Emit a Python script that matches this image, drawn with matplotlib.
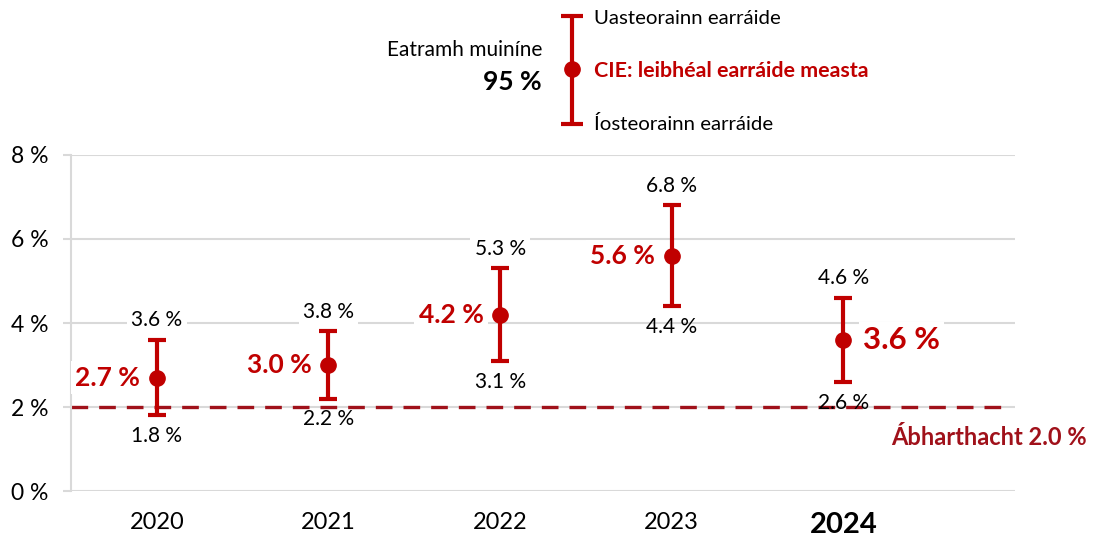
import numpy as np
import matplotlib.pyplot as plt

plt.rcParams['font.family'] = ['Lato', 'DejaVu Sans']

# data
years = ['2020', '2021', '2022', '2023', '2024']
estimate = [2.7, 3.0, 4.2, 5.6, 3.6]
upper = [3.6, 3.8, 5.3, 6.8, 4.6]
lower = [1.8, 2.2, 3.1, 4.4, 2.6]
materiality = 2.0
y_ticks = [0, 2, 4, 6, 8]

red = '#C00000'
dark_red = '#A0111A'
grid_grey = '#D9D9D9'

fig = plt.figure(figsize=(10.93, 5.40), dpi=100)
ax = fig.add_axes([0.065, 0.0907, 0.8636, 0.6223])

x = np.arange(len(years))
est = np.array(estimate)
up = np.array(upper)
lo = np.array(lower)

ax.set_xlim(-0.5, len(years))
ax.set_ylim(0, 8)
ax.set_yticks(y_ticks)
ax.set_yticklabels([f'{t} %' for t in y_ticks], fontsize=16.5)
ax.set_xticks(x)
ax.set_xticklabels(years, fontsize=17)
ax.get_xticklabels()[-1].set_fontweight('bold')
ax.get_xticklabels()[-1].set_fontsize(21)
ax.tick_params(axis='x', length=0, pad=15)
ax.tick_params(axis='y', length=6, color=grid_grey, width=1.5, pad=10)

for s in ['top', 'right', 'bottom']:
    ax.spines[s].set_visible(False)
ax.spines['left'].set_color(grid_grey)
ax.spines['left'].set_linewidth(1.5)
ax.grid(axis='y', color=grid_grey, linewidth=1.5)
ax.set_axisbelow(True)

# materiality line
ax.plot([-0.5, len(years) - 0.07], [materiality, materiality], color=dark_red,
        linestyle=(0, (5, 3.3)), linewidth=2.4, zorder=2)
ax.annotate(f'Ábharthacht {materiality:.1f} %', (len(years), materiality), xytext=(52, -22),
            textcoords='offset points', color=dark_red, fontsize=17, fontweight='bold',
            ha='right', va='center', annotation_clip=False)

# confidence intervals
ax.errorbar(x, est, yerr=[est - lo, up - est], fmt='o', color=red, ecolor=red,
            elinewidth=3, capsize=6.5, capthick=3, markersize=11, zorder=4)

box = dict(facecolor='white', edgecolor='none', pad=3)
for i in range(len(years)):
    ax.annotate(f'{up[i]:.1f} %', (x[i], up[i]), xytext=(0, 14), textcoords='offset points',
                ha='center', va='center', fontsize=15, bbox=box, zorder=3)
    ax.annotate(f'{lo[i]:.1f} %', (x[i], lo[i]), xytext=(0, -15), textcoords='offset points',
                ha='center', va='center', fontsize=15, zorder=3)
    if i == len(years) - 1:
        ax.annotate(f'{est[i]:.1f} %', (x[i], est[i]), xytext=(14, 0), textcoords='offset points',
                    ha='left', va='center', fontsize=22.5, fontweight='bold', color=red,
                    bbox=box, zorder=3)
    else:
        ax.annotate(f'{est[i]:.1f} %', (x[i], est[i]), xytext=(-12, 0), textcoords='offset points',
                    ha='right', va='center', fontsize=19, fontweight='bold', color=red,
                    bbox=box, zorder=3)

# legend key drawn above the plot
leg = fig.add_axes([0, 0.75, 1, 0.25])
leg.set_xlim(0, 1093)
leg.set_ylim(135, 0)
leg.axis('off')
leg.errorbar([572], [69], yerr=[[53], [55]], fmt='o', color=red, ecolor=red,
             elinewidth=3, capsize=8, capthick=3, markersize=11)
leg.text(594, 18, 'Uasteorainn earráide', fontsize=14.7, va='center')
leg.text(594, 71, 'CIE: leibhéal earráide measta', fontsize=15.4, va='center',
         color=red, fontweight='bold')
leg.text(594, 124, 'Íosteorainn earráide', fontsize=14.7, va='center')
leg.text(542, 50, 'Eatramh muiníne', fontsize=15, va='center', ha='right')
leg.text(542, 82, '95 %', fontsize=19, va='center', ha='right', fontweight='bold')

fig.savefig('out.png', dpi=100)
